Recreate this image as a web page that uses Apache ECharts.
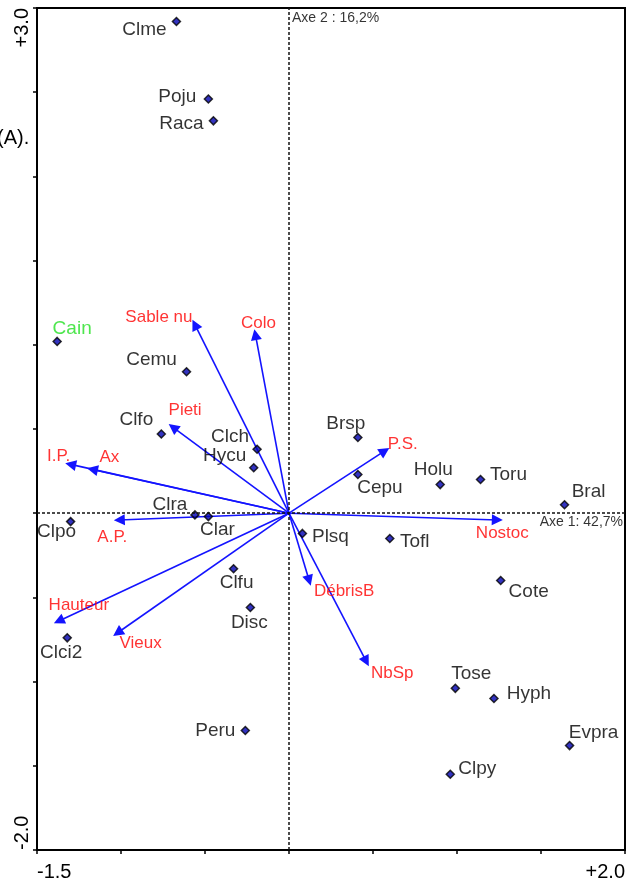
<!DOCTYPE html>
<html>
<head>
<meta charset="utf-8">
<script src="https://cdn.jsdelivr.net/npm/echarts@6/dist/echarts.min.js"></script>
<style>
  html, body { margin: 0; padding: 0; background: #fff; }
  #chart { width: 631px; height: 893px; }
</style>
</head>
<body>
<div id="chart"></div>
<script>
  // especes (points)
  const speciesNames = ['Clme', 'Poju', 'Raca', 'Cain', 'Cemu', 'Clfo', 'Clch', 'Hycu', 'Clra', 'Clar', 'Clpo',
    'Brsp', 'Cepu', 'Holu', 'Toru', 'Bral', 'Plsq', 'Tofl', 'Cote', 'Clfu', 'Disc', 'Clci2', 'Peru',
    'Tose', 'Hyph', 'Evpra', 'Clpy'];
  const speciesAxe1 = [-0.67, -0.48, -0.45, -1.38, -0.61, -0.76, -0.19, -0.21, -0.56, -0.48, -1.30,
    0.41, 0.41, 0.90, 1.14, 1.64, 0.08, 0.60, 1.26, -0.33, -0.23, -1.32, -0.26,
    0.99, 1.22, 1.67, 0.96];
  const speciesAxe2 = [2.92, 2.46, 2.33, 1.02, 0.84, 0.47, 0.38, 0.27, -0.01, -0.02, -0.05,
    0.45, 0.23, 0.17, 0.20, 0.05, -0.12, -0.15, -0.40, -0.33, -0.56, -0.74, -1.29,
    -1.04, -1.10, -1.38, -1.55];

  // variables (fleches)
  const varNames = ['Sable nu', 'Colo', 'Pieti', 'I.P.', 'Ax', 'A.P.', 'P.S.', 'Nostoc', 'DébrisB', 'Hauteur', 'Vieux', 'NbSp'];
  const varAxe1 = [-0.56, -0.20, -0.69, -1.30, -1.17, -1.01, 0.57, 1.24, 0.12, -1.37, -1.02, 0.46];
  const varAxe2 = [1.12, 1.06, 0.51, 0.29, 0.26, -0.04, 0.37, -0.04, -0.40, -0.64, -0.71, -0.88];

  const xTickLabels = ['-1.5', '+2.0'];
  const yTickLabels = ['-2.0', '+3.0'];
  const axisTitles = ['Axe 1: 42,7%', 'Axe 2 : 16,2%'];

  // decalage des etiquettes (px)
  const labelOffset = {
    Clme: [-32, 8], Poju: [-31, -2], Raca: [-32, 3], Cain: [15, -13], Cemu: [-35, -12],
    Clfo: [-25, -14], Clch: [-27, -12], Hycu: [-29, -12], Clra: [-25, -10], Clar: [9, 13],
    Clpo: [-14, 10], Brsp: [-12, -14], Cepu: [22, 13], Holu: [-7, -15], Toru: [28, -5],
    Bral: [24, -13], Plsq: [28, 3], Tofl: [25, 3], Cote: [28, 11], Clfu: [3, 14],
    Disc: [-1, 15], Clci2: [-6, 15], Peru: [-30, 0], Tose: [16, -15], Hyph: [35, -5],
    Evpra: [24, -13], Clpy: [27, -5],
    'Sable nu': [-36, -7], Colo: [3, -11], Pieti: [12, -17], 'I.P.': [-12, -8], Ax: [17, -12],
    'A.P.': [-7, 17], 'P.S.': [18, -7], Nostoc: [5, 13], 'DébrisB': [35, 11], Hauteur: [20, -16],
    Vieux: [23, 11], NbSp: [26, 12]
  };
  const labelColor = { Cain: '#22e022' };

  const font = 'Liberation Sans, Arial, sans-serif';
  const myChart = echarts.init(document.getElementById('chart'), null, { renderer: 'canvas' });

  const speciesData = speciesNames.map((n, i) => ({
    name: n,
    value: [speciesAxe1[i], speciesAxe2[i]],
    label: { offset: labelOffset[n], color: labelColor[n] || '#000' }
  }));
  const arrowData = varNames.map((n, i) => ({
    coords: [[0, 0], [varAxe1[i], varAxe2[i]]]
  }));
  const arrowLabelData = varNames.map((n, i) => ({
    name: n,
    value: [varAxe1[i], varAxe2[i]],
    label: { offset: labelOffset[n] }
  }));

  function tickFormatter (labels, min, max) {
    return function (v) {
      if (Math.abs(v - min) < 1e-9) return labels[0];
      if (Math.abs(v - max) < 1e-9) return labels[1];
      return '';
    };
  }

  myChart.setOption({
    animation: false,
    backgroundColor: '#fff',
    grid: {
      left: 37,
      right: 6,
      top: 8,
      bottom: 43,
      show: true,
      borderColor: '#000',
      borderWidth: 2
    },
    xAxis: {
      type: 'value',
      min: -1.5,
      max: 2.0,
      interval: 0.5,
      axisLine: { show: true, onZero: false, lineStyle: { color: '#000', width: 2 } },
      axisTick: { show: true, length: 4, lineStyle: { color: '#000', width: 1.5 } },
      splitLine: { show: false },
      axisLabel: {
        fontSize: 20,
        fontFamily: font,
        color: '#000',
        margin: 12,
        alignMinLabel: 'left',
        alignMaxLabel: 'right',
        formatter: tickFormatter(xTickLabels, -1.5, 2.0)
      }
    },
    yAxis: {
      type: 'value',
      min: -2.0,
      max: 3.0,
      interval: 0.5,
      axisLine: { show: true, onZero: false, lineStyle: { color: '#000', width: 2 } },
      axisTick: { show: true, length: 4, lineStyle: { color: '#000', width: 1.5 } },
      splitLine: { show: false },
      axisLabel: {
        rotate: 90,
        fontSize: 20,
        fontFamily: font,
        color: '#000',
        margin: 5,
        alignMinLabel: 'left',
        alignMaxLabel: 'right',
        formatter: tickFormatter(yTickLabels, -2.0, 3.0)
      }
    },
    graphic: [{
      type: 'text',
      left: -3,
      top: 128,
      style: { text: '(A).', font: '20px ' + font, fill: '#000' }
    }],
    series: [
      {
        type: 'lines',
        coordinateSystem: 'cartesian2d',
        silent: true,
        symbol: ['none', 'triangle'],
        symbolSize: [0, 11],
        lineStyle: { color: '#1414ff', width: 1.6, opacity: 1 },
        data: arrowData,
        markLine: {
          silent: true,
          symbol: 'none',
          label: { show: false },
          lineStyle: { color: '#111', width: 1.5, type: [3, 2] },
          data: [{ xAxis: 0 }, { yAxis: 0 }]
        }
      },
      {
        type: 'scatter',
        silent: true,
        symbolSize: 1,
        itemStyle: { color: 'rgba(0,0,0,0)' },
        label: {
          show: true,
          position: 'inside',
          formatter: '{b}',
          fontSize: 17,
          fontFamily: font,
          color: '#ff0000',
          textBorderWidth: 0
        },
        data: arrowLabelData
      },
      {
        type: 'scatter',
        silent: true,
        symbol: 'diamond',
        symbolSize: 8,
        itemStyle: { color: '#0000b0', borderColor: '#000', borderWidth: 1.5 },
        label: {
          show: true,
          position: 'inside',
          formatter: '{b}',
          fontSize: 19,
          fontFamily: font,
          color: '#000',
          textBorderWidth: 0
        },
        data: speciesData
      },
      {
        type: 'scatter',
        silent: true,
        symbolSize: 1,
        itemStyle: { color: 'rgba(0,0,0,0)' },
        label: {
          show: true,
          position: 'inside',
          formatter: '{b}',
          fontSize: 14,
          fontFamily: font,
          color: '#000',
          textBorderWidth: 0,
          verticalAlign: 'top'
        },
        data: [
          { name: axisTitles[0], value: [2.0, 0], label: { align: 'right', offset: [-2, 2] } },
          { name: axisTitles[1], value: [0, 3.0], label: { align: 'left', offset: [3, 3] } }
        ]
      }
    ]
  });
</script>
</body>
</html>
